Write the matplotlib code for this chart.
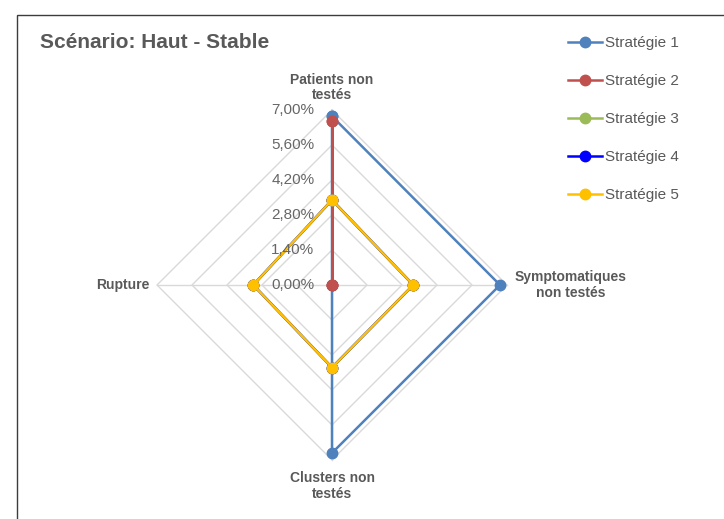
import numpy as np
import matplotlib
matplotlib.use("Agg")
import matplotlib.pyplot as plt
from matplotlib.patches import Rectangle

plt.rcParams["font.family"] = ["Liberation Sans", "DejaVu Sans"]

# axes of the radar, clockwise from the top
axes_labels = ["Patients non\ntestés", "Symptomatiques\nnon testés", "Clusters non\ntestés", "Rupture"]
series_names = ["Stratégie 1", "Stratégie 2", "Stratégie 3", "Stratégie 4", "Stratégie 5"]
strat1 = [6.75, 6.72, 6.72, 0.0]
strat2 = [6.55, 0.0, 0.0, 0.0]
strat3 = [3.40, 3.25, 3.30, 3.15]
strat4 = [3.40, 3.25, 3.30, 3.15]
strat5 = [3.40, 3.25, 3.30, 3.15]
ring_ticks = [0.0, 1.4, 2.8, 4.2, 5.6, 7.0]
colors = ["#4F81BD", "#C0504D", "#9BBB59", "#0000FF", "#FFC000"]

grey = "#595959"
W, H = 724, 519
fig = plt.figure(figsize=(W / 100, H / 100), dpi=100)

# chart border (right and bottom edges fall outside the picture)
fig.patches.append(Rectangle((17 / W, -0.1), 1.0, 1 - 15 / H + 0.1, transform=fig.transFigure,
                             fill=False, edgecolor="#3c3c3c", linewidth=1.0))

cx, cy, half = 332, 519 - 285, 200
ax = fig.add_axes([(cx - half) / W, (cy - half) / H, 2 * half / W, 2 * half / H])
ax.set_xlim(-8, 8)
ax.set_ylim(-8, 8)
ax.axis("off")

theta = np.array([0, 0.5, 1.0, 1.5]) * np.pi


def to_xy(vals):
    v = np.asarray(vals, dtype=float)
    x = v * np.sin(theta)
    y = v * np.cos(theta)
    return np.append(x, x[0]), np.append(y, y[0])


# diamond grid
for r in ring_ticks[1:]:
    gx, gy = to_xy([r] * 4)
    ax.plot(gx, gy, color="#D9D9D9", lw=1.0, zorder=1)
for t in theta:
    ax.plot([0, 7 * np.sin(t)], [0, 7 * np.cos(t)], color="#D9D9D9", lw=1.0, zorder=1)

# radial tick labels
for r in ring_ticks:
    ax.text(-0.7, r, f"{r:.2f}".replace(".", ",") + "%", ha="right", va="center",
            fontsize=11, color="#666666", zorder=5)

# category labels
lab = dict(fontsize=10, fontweight="bold", color=grey, linespacing=1.15)
ax.text(0, 7.3, axes_labels[0], ha="center", va="bottom", **lab)
ax.text(9.55, 0, axes_labels[1], ha="center", va="center", **lab)
ax.text(0, -7.45, axes_labels[2], ha="center", va="top", **lab)
ax.text(-7.3, 0, axes_labels[3], ha="right", va="center", **lab)

handles = []
for name, vals, c in zip(series_names, [strat1, strat2, strat3, strat4, strat5], colors):
    x, y = to_xy(vals)
    ln, = ax.plot(x, y, color=c, lw=1.8, marker="o", markersize=7.5, label=name, zorder=3,
                  clip_on=False)
    handles.append(ln)

fig.text(40 / W, 1 - 42 / H, "Scénario: Haut - Stable", fontsize=15, fontweight="bold",
         color=grey, ha="left", va="center")

leg = fig.legend(handles=handles, loc="upper left", bbox_to_anchor=(562 / W, 1 - 30 / H),
                 frameon=False, fontsize=11, labelspacing=1.57, handlelength=2.2,
                 handletextpad=0.2, borderaxespad=0)
for t in leg.get_texts():
    t.set_color(grey)

fig.savefig("out.png", dpi=100)
